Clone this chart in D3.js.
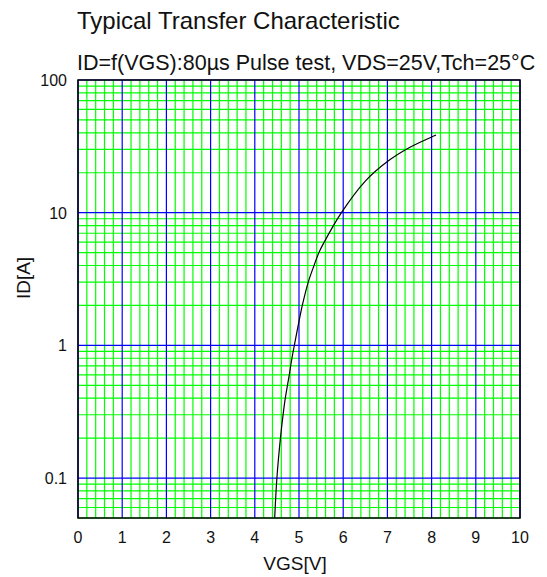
<!DOCTYPE html>
<html>
<head>
    <title>Typical Transfer Characteristic</title>
    <script src="https://d3js.org/d3.v7.min.js"></script>
    <style>
        body {
            margin: 0;
            padding: 0;
            background: #fff;
            font-family: Arial, "Liberation Sans", sans-serif;
        }
        text {
            fill: #111;
        }
    </style>
</head>
<body>
    <div id="chart"></div>

    <script>
        // Curve
        const vgs = [4.45, 4.50, 4.58, 4.64, 4.69, 4.78, 4.84, 4.895, 5.075, 5.21, 5.34, 5.45, 5.57, 5.96, 6.5, 7.0, 7.5, 8.0, 8.1];
        const id  = [0.05, 0.1,  0.2,  0.3,  0.4,  0.6,  0.8,  1,     2,     3,    4,    5,    6,    10,   17.3, 24.3, 31, 37.2, 38.5];

        const xTicks = [0, 1, 2, 3, 4, 5, 6, 7, 8, 9, 10];
        const yTicks = [0.1, 1, 10, 100];
        const yTickLabels = ['0.1', '1', '10', '100'];

        const width = 547, height = 577;
        const margin = {top: 80, right: 27, bottom: 59, left: 78};

        const svg = d3.select('#chart')
            .append('svg')
            .attr('width', width)
            .attr('height', height);

        const x = d3.scaleLinear()
            .domain([0, 10])
            .range([margin.left, width - margin.right]);

        const y = d3.scaleLog()
            .domain([0.05, 100])
            .range([height - margin.bottom, margin.top]);

        // minor grid values
        const xMinor = d3.range(0, 50).map(i => i / 5).filter(v => v % 1 !== 0);
        const yMinor = [];
        [0.01, 0.1, 1, 10].forEach(d => {
            for (let k = 2; k <= 9; k++) {
                const v = +(k * d).toPrecision(3);
                if (v >= 0.05 && v < 100) yMinor.push(v);
            }
        });

        const grid = svg.append('g');

        grid.selectAll('.vmin')
            .data(xMinor)
            .enter().append('line')
            .attr('x1', d => x(d)).attr('x2', d => x(d))
            .attr('y1', y(0.05)).attr('y2', y(100))
            .attr('stroke', '#00ff00')
            .attr('stroke-width', 1.2);

        grid.selectAll('.hmin')
            .data(yMinor)
            .enter().append('line')
            .attr('x1', x(0)).attr('x2', x(10))
            .attr('y1', d => y(d)).attr('y2', d => y(d))
            .attr('stroke', '#00ff00')
            .attr('stroke-width', 1.2);

        grid.selectAll('.vmaj')
            .data(xTicks)
            .enter().append('line')
            .attr('x1', d => x(d)).attr('x2', d => x(d))
            .attr('y1', y(0.05)).attr('y2', y(100))
            .attr('stroke', '#0000ff')
            .attr('stroke-width', 1.2);

        grid.selectAll('.hmaj')
            .data(yTicks)
            .enter().append('line')
            .attr('x1', x(0)).attr('x2', x(10))
            .attr('y1', d => y(d)).attr('y2', d => y(d))
            .attr('stroke', '#0000ff')
            .attr('stroke-width', 1.2);

        // frame
        svg.append('rect')
            .attr('x', x(0))
            .attr('y', y(100))
            .attr('width', x(10) - x(0))
            .attr('height', y(0.05) - y(100))
            .attr('fill', 'none')
            .attr('stroke', '#000')
            .attr('stroke-width', 1.5);

        // curve
        const line = d3.line()
            .x((d, i) => x(vgs[i]))
            .y(d => y(d))
            .curve(d3.curveCatmullRom.alpha(0.5));

        svg.append('path')
            .datum(id)
            .attr('d', line)
            .attr('fill', 'none')
            .attr('stroke', '#000')
            .attr('stroke-width', 1.2);

        // tick labels
        svg.selectAll('.xlab')
            .data(xTicks)
            .enter().append('text')
            .attr('x', d => x(d))
            .attr('y', 543)
            .attr('text-anchor', 'middle')
            .style('font-size', '16px')
            .text(d => d);

        svg.selectAll('.ylab')
            .data(yTicks)
            .enter().append('text')
            .attr('x', 67)
            .attr('y', d => y(d))
            .attr('dy', '0.37em')
            .attr('text-anchor', 'end')
            .style('font-size', '16px')
            .text((d, i) => yTickLabels[i]);

        // axis titles
        svg.append('text')
            .attr('x', 295)
            .attr('y', 570)
            .attr('text-anchor', 'middle')
            .style('font-size', '19px')
            .text('VGS[V]');

        svg.append('text')
            .attr('transform', 'translate(30, 278) rotate(-90)')
            .attr('text-anchor', 'middle')
            .style('font-size', '19px')
            .text('ID[A]');

        // titles
        svg.append('text')
            .attr('x', 77)
            .attr('y', 29)
            .style('font-size', '24px')
            .text('Typical Transfer Characteristic');

        svg.append('text')
            .attr('x', 77)
            .attr('y', 70)
            .style('font-size', '21.5px')
            .text('ID=f(VGS):80µs Pulse test, VDS=25V,Tch=25°C');
    </script>
</body>
</html>
